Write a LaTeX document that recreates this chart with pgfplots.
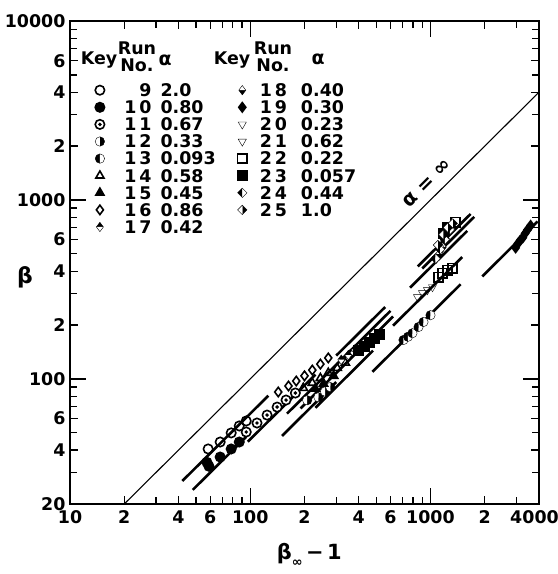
\documentclass[border=0pt]{standalone}
\usepackage{fontspec}
\setmainfont{DejaVu Sans}
\usepackage{pgfplots}
\pgfplotsset{compat=1.18}
\pgfdeclareplotmark{odot}{%
  \pgfpathcircle{\pgfpointorigin}{\pgfplotmarksize}\pgfusepathqfillstroke
  \begin{pgfscope}\pgfsetfillcolor{black}%
  \pgfpathcircle{\pgfpointorigin}{0.42\pgfplotmarksize}\pgfusepathqfill\end{pgfscope}}
\newcommand{\lf}{\fontsize{17.5}{17}\selectfont\bfseries}
\newcommand{\ea}[2]{\makebox[47bp][r]{#1}\hspace{9bp}\makebox[77bp][l]{#2}}
\newcommand{\eb}[2]{\makebox[40bp][r]{#1}\hspace{14bp}#2}
\begin{document}
\begin{tikzpicture}
\begin{axis}[
  xmode=log, ymode=log,
  scale only axis, width=469bp, height=483bp,
  xmin=10, xmax=4000, ymin=20, ymax=10000,
  xtick={10,20,40,60,100,200,400,600,1000,2000,4000},
  xticklabels={10,2,4,6,100,2,4,6,1000,2,\kern-9bp 4000},
  minor xtick={30,50,70,80,90,300,500,700,800,900,3000},
  ytick={20,40,60,100,200,400,600,1000,2000,4000,6000,10000},
  yticklabels={20,4,6,100,2,4,6,1000,2,4,6,10000},
  minor ytick={30,50,70,80,90,300,500,700,800,900,3000,5000,7000,8000,9000},
  extra x ticks={100,1000}, extra x tick labels={,},
  extra x tick style={major tick length=16bp},
  extra y ticks={100,1000}, extra y tick labels={,},
  extra y tick style={major tick length=16bp},
  tick align=inside, tick pos=both,
  major tick length=8bp, minor tick length=7bp,
  tick style={line width=1.3bp, black},
  axis line style={line width=1.8bp},
  tick label style={font=\lf},
  xticklabel style={yshift=-3bp},
  yticklabel style={xshift=-1bp},
  xlabel={β\raisebox{-0.3em}{\fontsize{13}{13}\selectfont ∞}\,−\,1},
  ylabel={β},
  every axis x label/.style={at={(rel axis cs:0.51,0)}, anchor=center, yshift=-51bp, font=\fontsize{21}{21}\selectfont\bfseries},
  every axis y label/.style={at={(rel axis cs:0,0.47)}, anchor=center, xshift=-45bp, font=\fontsize{22}{22}\selectfont\bfseries},
  legend columns=2,
  legend image code/.code={\draw[only marks,#1] plot coordinates {(0bp,0bp)};},
  legend style={draw=none, fill=none, inner sep=0pt, at={(0,1)}, anchor=north west,
    xshift=25bp, yshift=-62.6bp, row sep=4.3bp, column sep=0pt,
    nodes={inner sep=0pt, text height=12.8bp, text depth=0bp, font=\lf},
    cells={anchor=west}},
  mk/.style={only marks, mark size=4.7bp, mark options={line width=1.6bp, draw=black, fill=white}},
  mkf/.style={only marks, mark size=4.7bp, mark options={line width=1.6bp, draw=black, fill=black}},
  fit/.style={line width=2.6bp, black, no marks, forget plot},
]
% alpha = infinity line
\addplot[line width=1.1bp, black, no marks, forget plot] coordinates {(20,20) (4000,4000)};
% fit lines
\addplot[fit] coordinates {(42,26.9) (126,80.6)};
\addplot[fit] coordinates {(48,24) (95,47.5)};
\addplot[fit] coordinates {(97,44.6) (230,105.8)};
\addplot[fit] coordinates {(160,64) (330,132)};
\addplot[fit] coordinates {(190,68.4) (420,151.2)};
\addplot[fit] coordinates {(150,48) (300,96)};
\addplot[fit] coordinates {(230,69) (480,144)};
\addplot[fit] coordinates {(300,135) (560,252)};
\addplot[fit] coordinates {(330,132) (600,240)};
\addplot[fit] coordinates {(380,136.8) (620,223.2)};
\addplot[fit] coordinates {(850,425) (1670,835)};
\addplot[fit] coordinates {(770,323.4) (1600,672)};
\addplot[fit] coordinates {(900,414) (1750,805)};
\addplot[fit] coordinates {(620,198.4) (1500,480)};
\addplot[fit] coordinates {(476,109.5) (1470,338)};
\addplot[fit] coordinates {(1940,374) (3930,758.5)};
% data: runs
\addplot[mk, mark=o, forget plot] coordinates {(58.4,40.6) (68.1,44.4) (78.4,49.9) (86.9,54.6) (95,58.2)};
\addplot[mkf, mark=*, forget plot] coordinates {(57.5,34.2) (59,32.5) (68.1,36.6) (78.4,40.6) (86.9,44.4)};
\addplot[mk, mark=odot, forget plot] coordinates {(95,50.5) (109,56.7) (124,62.8) (141,69.6) (158,76.2) (178,83.4)};
\addplot[mk, mark=halfcircle*, mark options={fill=black, rotate=-90}, forget plot] coordinates {(207,76) (239,79) (260,85) (278,90)};
\addplot[mk, mark=halfcircle*, mark options={fill=black, rotate=90}, forget plot] coordinates {(708,165) (750,172) (794,180) (858,195) (914,208) (1000,227)};
\addplot[mk, mark=triangle, forget plot] coordinates {(197,89) (221,95) (245,101) (271,108) (304,115) (337,123)};
\addplot[mkf, mark=triangle*, forget plot] coordinates {(230,88) (255,94) (290,104)};
\addplot[mk, mark=diamond, forget plot] coordinates {(143,84.5) (163,91.3) (180,97.3) (200,104) (221,112) (245,121) (271,131)};
\addplot[mk, mark=halfdiamond*, mark options={fill=black, rotate=180}, forget plot] coordinates {(320,128) (350,136) (380,146)};
\addplot[mk, mark=halfdiamond*, mark options={fill=black}, forget plot] coordinates {(1120,500) (1170,545) (1230,600)};
\addplot[mkf, mark=diamond*, forget plot] coordinates {(2966,540) (3050,570) (3150,595) (3250,615) (3350,650) (3450,680) (3594,720)};
\addplot[mk, mark=triangle, mark options={rotate=180}, forget plot] coordinates {(847,287) (903,302) (962,314) (1026,326)};
\addplot[mk, mark=triangle, mark options={rotate=180}, forget plot] coordinates {(1080,470) (1140,520) (1200,570)};
\addplot[mk, mark=square, forget plot] coordinates {(1108,371) (1166,390) (1242,405) (1324,416) (1376,752)};
\addplot[mkf, mark=square*, forget plot] coordinates {(400,145) (430,152) (460,160) (490,168) (520,176) (1180,650) (1250,700)};
\addplot[mk, mark=halfsquare left*, mark options={fill=black}, forget plot] coordinates {(1066,470) (1130,530) (1200,600) (1280,680)};
\addplot[mk, mark=halfsquare right*, mark options={fill=black}, forget plot] coordinates {(1100,560) (1180,640) (1250,700) (1330,740)};
% legend
\addlegendimage{mk, mark=o}\addlegendentry{\ea{9}{2.0}}
\addlegendimage{mk, mark=halfdiamond*, mark options={fill=black}}\addlegendentry{\eb{1\,8}{0.40}}
\addlegendimage{mkf, mark=*}\addlegendentry{\ea{1\,0}{0.80}}
\addlegendimage{mkf, mark=diamond*}\addlegendentry{\eb{1\,9}{0.30}}
\addlegendimage{mk, mark=odot}\addlegendentry{\ea{1\,1}{0.67}}
\addlegendimage{mk, mark=triangle, mark options={rotate=180}}\addlegendentry{\eb{2\,0}{0.23}}
\addlegendimage{mk, mark=halfcircle*, mark options={fill=black, rotate=-90}}\addlegendentry{\ea{1\,2}{0.33}}
\addlegendimage{mk, mark=triangle, mark options={rotate=180}}\addlegendentry{\eb{2\,1}{0.62}}
\addlegendimage{mk, mark=halfcircle*, mark options={fill=black, rotate=90}}\addlegendentry{\ea{1\,3}{0.093}}
\addlegendimage{mk, mark=square}\addlegendentry{\eb{2\,2}{0.22}}
\addlegendimage{mk, mark=triangle}\addlegendentry{\ea{1\,4}{0.58}}
\addlegendimage{mkf, mark=square*}\addlegendentry{\eb{2\,3}{0.057}}
\addlegendimage{mkf, mark=triangle*}\addlegendentry{\ea{1\,5}{0.45}}
\addlegendimage{mk, mark=halfsquare left*, mark options={fill=black}}\addlegendentry{\eb{2\,4}{0.44}}
\addlegendimage{mk, mark=diamond}\addlegendentry{\ea{1\,6}{0.86}}
\addlegendimage{mk, mark=halfsquare right*, mark options={fill=black}}\addlegendentry{\eb{2\,5}{1.0}}
\addlegendimage{mk, mark=halfdiamond*, mark options={fill=black, rotate=180}}\addlegendentry{\ea{1\,7}{0.42}}
% header texts
\node[font=\lf, inner sep=0pt] at ([xshift=29bp,yshift=-39bp]rel axis cs:0,1) {Key};
\node[font=\lf, inner sep=0pt, align=center] at ([xshift=67bp,yshift=-35.5bp]rel axis cs:0,1) {Run\\No.};
\node[font=\fontsize{19}{19}\selectfont\bfseries, inner sep=0pt] at ([xshift=95bp,yshift=-39bp]rel axis cs:0,1) {α};
\node[font=\lf, inner sep=0pt] at ([xshift=162bp,yshift=-39bp]rel axis cs:0,1) {Key};
\node[font=\lf, inner sep=0pt, align=center] at ([xshift=203bp,yshift=-35.5bp]rel axis cs:0,1) {Run\\No.};
\node[font=\fontsize{19}{19}\selectfont\bfseries, inner sep=0pt] at ([xshift=248bp,yshift=-38bp]rel axis cs:0,1) {α};
\node[font=\fontsize{20}{20}\selectfont\bfseries, rotate=45, inner sep=0pt] at (axis cs:960,1240) {α = ∞};
\coordinate (BL) at (rel axis cs:0,0);
\coordinate (TR) at (rel axis cs:1,1);
\end{axis}
\pgfresetboundingbox
\path[use as bounding box] ([xshift=-70bp,yshift=-70bp]BL) rectangle ([xshift=19bp,yshift=21bp]TR);
\end{tikzpicture}
\end{document}
